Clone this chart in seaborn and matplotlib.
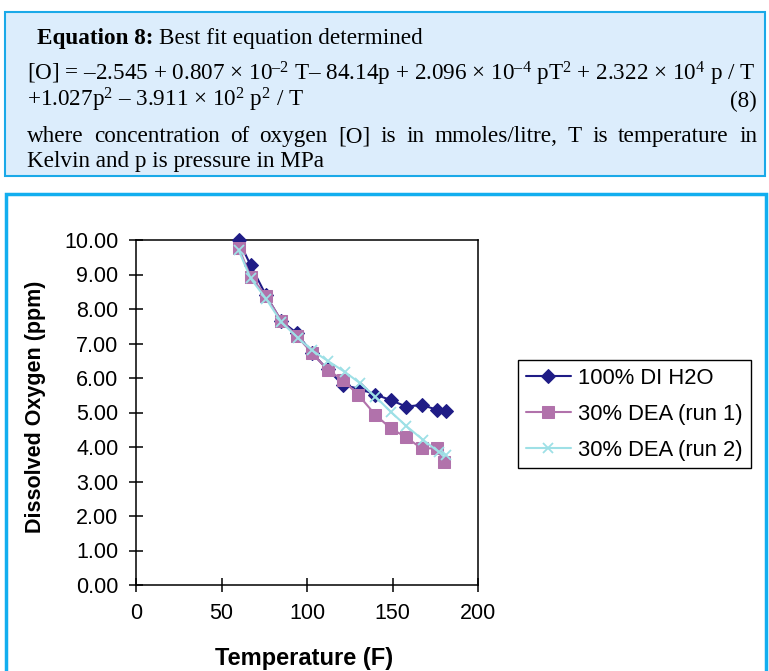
import matplotlib
matplotlib.use('Agg')
import matplotlib.pyplot as plt
import seaborn as sns
import pandas as pd
from matplotlib.patches import Rectangle

# ---------------- data ----------------
temps_h2o = [60, 67, 76, 85, 94, 103, 112, 121, 131, 140, 149, 158, 167, 176, 181]
do_h2o = [10.00, 9.27, 8.40, 7.65, 7.30, 6.72, 6.25, 5.80, 5.68, 5.52, 5.36, 5.17, 5.22, 5.08, 5.05]

temps_run1 = [60, 67, 76, 85, 94, 103, 112, 121, 130, 140, 149, 158, 167, 176, 180]
do_run1 = [9.78, 8.94, 8.39, 7.66, 7.22, 6.72, 6.24, 5.94, 5.51, 4.93, 4.54, 4.28, 3.96, 3.96, 3.57]

temps_run2 = [60, 67, 76, 85, 95, 103, 112, 122, 131, 140, 149, 158, 168, 177, 181]
do_run2 = [9.71, 8.89, 8.30, 7.62, 7.15, 6.80, 6.50, 6.18, 5.85, 5.46, 5.02, 4.61, 4.20, 3.86, 3.77]

series_labels = ['100% DI H2O', '30% DEA (run 1)', '30% DEA (run 2)']
x_ticks = [0, 50, 100, 150, 200]
y_ticks = [0, 1, 2, 3, 4, 5, 6, 7, 8, 9, 10]

eq_title_bold = 'Equation 8:'
eq_title_rest = 'Best fit equation determined'
eq_line2 = ('[O] = –2.545 + 0.807 × 10$^{–2}$ T– 84.14p + 2.096 × 10$^{–4}$ pT$^{2}$'
            ' + 2.322 × 10$^{4}$ p / T')
eq_line3 = '+1.027p$^{2}$ – 3.911 × 10$^{2}$ p$^{2}$ / T'
eq_number = '(8)'
eq_line4 = 'where concentration of oxygen [O] is in mmoles/litre, T is temperature in'
eq_line5 = 'Kelvin and p is pressure in MPa'

# ---------------- style ----------------
sns.set_style('ticks')
plt.rcParams['font.family'] = ['Liberation Sans', 'DejaVu Sans']
plt.rcParams['mathtext.fontset'] = 'custom'
plt.rcParams['mathtext.rm'] = 'Liberation Serif'
plt.rcParams['mathtext.default'] = 'regular'
for k in ['text.color', 'axes.labelcolor', 'xtick.color', 'ytick.color']:
    plt.rcParams[k] = 'black'
serif = ['Liberation Serif', 'DejaVu Serif']

W, H = 769, 671
fig = plt.figure(figsize=(W / 100, H / 100), dpi=100)
fig.patch.set_facecolor('white')


def fx(px):
    return px / W


def fy(py):
    return 1 - py / H


# boxes
fig.patches.append(Rectangle((fx(5), fy(176)), fx(765) - fx(5), fy(12) - fy(176),
                             transform=fig.transFigure, facecolor='#dcedfc',
                             edgecolor='#1aa9e8', linewidth=1.5, zorder=-2))
fig.patches.append(Rectangle((fx(6), fy(690)), fx(766) - fx(6), fy(194) - fy(690),
                             transform=fig.transFigure, facecolor='white',
                             edgecolor='#12aeef', linewidth=2.5, zorder=-2))

# ---------------- equation text ----------------
renderer = fig.canvas.get_renderer()
base = 14
probe = fig.text(0, 0, eq_line2, fontsize=base, family=serif)
wpx = probe.get_window_extent(renderer).width
probe.remove()
efs = base * 730 / wpx

t1 = fig.text(fx(37), fy(44), eq_title_bold, fontsize=efs, family=serif,
              fontweight='bold', va='baseline')
bb = t1.get_window_extent(renderer)
fig.text((bb.x1 + efs * 0.35) / W, fy(44), eq_title_rest, fontsize=efs, family=serif,
         va='baseline')
fig.text(fx(27), fy(80), eq_line2, fontsize=efs, family=serif, va='baseline')
fig.text(fx(27), fy(107), eq_line3, fontsize=efs, family=serif, va='baseline')
fig.text(fx(757), fy(107), eq_number, fontsize=efs, family=serif, va='baseline', ha='right')

# justified line 4
words = eq_line4.split()
widths = []
for w_ in words:
    tt = fig.text(0, 0, w_, fontsize=efs, family=serif)
    widths.append(tt.get_window_extent(renderer).width)
    tt.remove()
gap = (730 - sum(widths)) / (len(words) - 1)
xpos = 27
for w_, wd in zip(words, widths):
    fig.text(fx(xpos), fy(142), w_, fontsize=efs, family=serif, va='baseline')
    xpos += wd + gap
fig.text(fx(27), fy(167), eq_line5, fontsize=efs, family=serif, va='baseline')

# ---------------- chart ----------------
ax = fig.add_axes([136 / W, 1 - 585 / H, 342 / W, 345 / H])
ax.set_facecolor('white')

c1, c2, c3 = '#1f1c86', '#b172ab', '#9ee0e6'
sns.lineplot(x=temps_h2o, y=do_h2o, ax=ax, color=c1, marker='D', markersize=7,
             markeredgecolor=c1, linewidth=1.5, sort=False, label=series_labels[0],
             legend=False, clip_on=False, zorder=3)
sns.lineplot(x=temps_run1, y=do_run1, ax=ax, color=c2, marker='s', markersize=8,
             markeredgecolor=c2, linewidth=1.5, sort=False, label=series_labels[1],
             legend=False, clip_on=False, zorder=4)
sns.lineplot(x=temps_run2, y=do_run2, ax=ax, color=c3, marker='x', markersize=7,
             markeredgewidth=1.3, markeredgecolor=c3, linewidth=1.5, sort=False,
             label=series_labels[2], legend=False, clip_on=False, zorder=5)

ax.set_xlim(0, 200)
ax.set_ylim(0, 10)
ax.set_xticks(x_ticks)
ax.set_xticklabels([str(v) for v in x_ticks])
ax.set_yticks(y_ticks)
ax.set_yticklabels(['%.2f' % v for v in y_ticks])
ax.tick_params(axis='both', direction='inout', length=9.5, width=1.1, labelsize=15.5,
               pad=8, colors='black', top=False, right=False)
for s in ax.spines.values():
    s.set_visible(True)
    s.set_color('black')
    s.set_linewidth(1.1)

ax.set_ylabel('Dissolved Oxygen (ppm)', fontsize=15.5, fontweight='bold')
ax.yaxis.set_label_coords(-0.262, 0.516)
ax.set_xlabel('Temperature (F)', fontsize=17, fontweight='bold')
ax.xaxis.set_label_coords(0.491, -0.18)

handles, labels = ax.get_legend_handles_labels()
leg = fig.legend(handles, labels, loc='upper left', bbox_to_anchor=(fx(518), fy(360)),
                 frameon=True, fancybox=False, edgecolor='black', framealpha=1,
                 fontsize=15.8, handlelength=2.05, handletextpad=0.35, labelspacing=0.68,
                 borderpad=0.35, borderaxespad=0)
leg.get_frame().set_linewidth(1.0)

fig.savefig('out.png', dpi=100)
